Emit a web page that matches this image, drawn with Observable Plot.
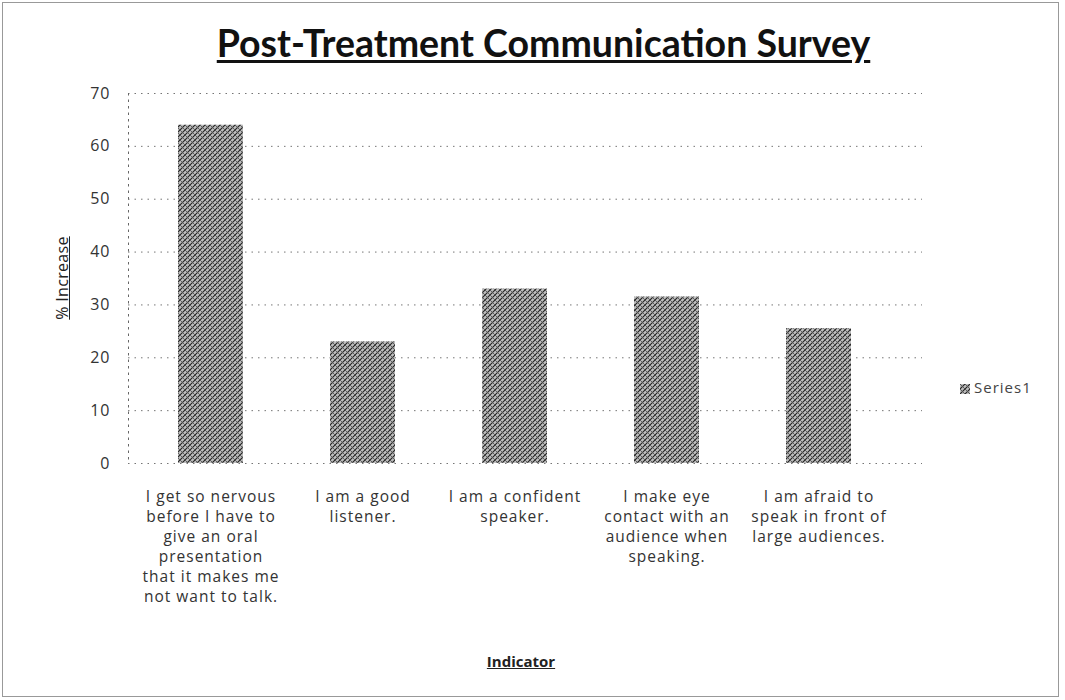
<!DOCTYPE html>
<html>
<head>
<meta charset="utf-8">
<script src="https://cdn.jsdelivr.net/npm/d3@7"></script>
<script src="https://cdn.jsdelivr.net/npm/@observablehq/plot@0.6"></script>
<style>
  html, body { margin: 0; padding: 0; background: #fff; }
  #wrap { position: relative; width: 1065px; height: 700px; overflow: hidden; }
  #border { position: absolute; left: 2px; top: 2px; width: 1057px; height: 695px; border: 1px solid #999; box-sizing: border-box; pointer-events: none; }
  .t { position: absolute; white-space: nowrap; color: #111; }
  #title { left: 0; width: 1087px; top: 20px; text-align: center; font: bold 37.5px Lato, "Open Sans", sans-serif; text-decoration: underline; text-decoration-thickness: 2.5px; text-underline-offset: 3px; }
  #ylab { left: 62px; top: 278px; transform: translate(-50%, -50%) rotate(-90deg); font: 16px "Open Sans", sans-serif; text-decoration: underline; color: #222; letter-spacing: 0.3px; }
  #xlab { left: 521px; top: 651px; transform: translateX(-50%); font: bold 15px "Open Sans", sans-serif; text-decoration: underline; color: #222; }
  #legend { left: 960px; top: 377px; font: 15px "Open Sans", sans-serif; color: #444; letter-spacing: 1px; }
  #legend svg { vertical-align: -1px; margin-right: 4px; }
</style>
</head>
<body>
<div id="wrap">
  <div id="chart"></div>
  <div id="title" class="t"></div>
  <div id="ylab" class="t"></div>
  <div id="xlab" class="t"></div>
  <div id="legend" class="t"></div>
  <div id="border"></div>
</div>
<script>
const titleText = "Post-Treatment Communication Survey";
const yLabel = "% Increase";
const xLabel = "Indicator";
const seriesName = "Series1";
const categories = [
  "I get so nervous\nbefore I have to\ngive an oral\npresentation\nthat it makes me\nnot want to talk.",
  "I am a good\nlistener.",
  "I am a confident\nspeaker.",
  "I make eye\ncontact with an\naudience when\nspeaking.",
  "I am afraid to\nspeak in front of\nlarge audiences."
];
const values = [64, 23, 33, 31.5, 25.5];
const yTicks = [0, 10, 20, 30, 40, 50, 60, 70];

const data = categories.map((c, i) => ({category: c, value: values[i]}));

const chart = Plot.plot({
  width: 1065,
  height: 700,
  marginTop: 93,
  marginBottom: 237,
  marginLeft: 128,
  marginRight: 143,
  style: {fontFamily: "'Open Sans', sans-serif", background: "transparent", letterSpacing: "1px"},
  x: {domain: categories, range: [134, 894], paddingInner: 0.575, paddingOuter: 0.2875},
  y: {domain: [0, 70]},
  marks: [
    Plot.gridY(yTicks, {stroke: "#666", strokeOpacity: 0.9, strokeDasharray: "1.5,5"}),
    Plot.frame({anchor: "left", stroke: "#666", strokeDasharray: "1.5,5"}),
    Plot.barY(data, {x: "category", y: "value", fill: "url(#hatch)"}),
    Plot.axisY(yTicks, {tickSize: 0, tickPadding: 18, fontSize: 16, fill: "#333", label: null}),
    Plot.axisX({tickSize: 0, tickPadding: 24, fontSize: 15.5, fill: "#333", label: null, lineHeight: 1.29})
  ]
});

// crosshatch pattern for bars
const defs = d3.select(chart).insert("defs", ":first-child");
const pat = defs.append("pattern").attr("id", "hatch").attr("patternUnits", "userSpaceOnUse")
  .attr("width", 5).attr("height", 5);
pat.append("rect").attr("width", 5).attr("height", 5).attr("fill", "#bdbdbd");
pat.append("path").attr("d", "M0,5 L5,0 M-1,1 L1,-1 M4,6 L6,4").attr("stroke", "#222").attr("stroke-width", 1.1);
pat.append("path").attr("d", "M0,0 L5,5 M-1,4 L1,6 M4,-1 L6,1").attr("stroke", "#555").attr("stroke-width", 0.9);

document.getElementById("chart").appendChild(chart);
document.getElementById("title").textContent = titleText;
document.getElementById("ylab").textContent = yLabel;
document.getElementById("xlab").textContent = xLabel;
document.getElementById("legend").innerHTML =
  '<svg width="10" height="10"><rect width="10" height="10" fill="url(#hatch)"/></svg>' + seriesName;
</script>
</body>
</html>
